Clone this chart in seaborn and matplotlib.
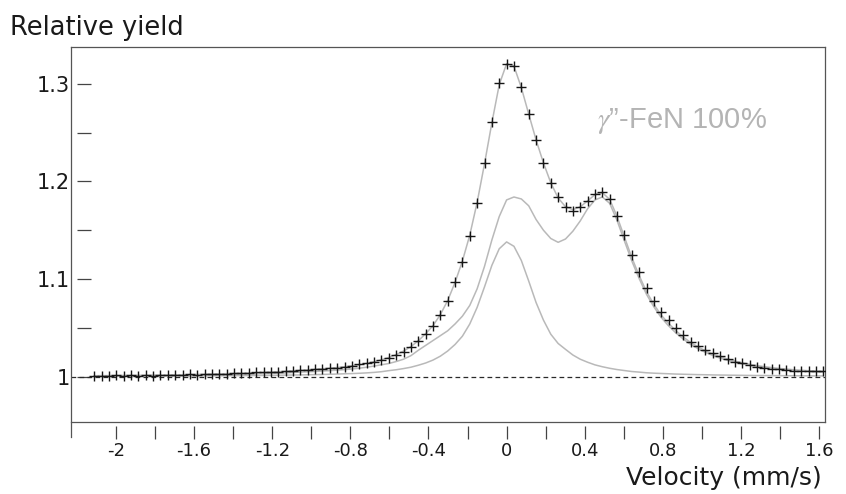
import numpy as np
import matplotlib
matplotlib.use("Agg")
import matplotlib.pyplot as plt
from matplotlib.markers import MarkerStyle
from matplotlib.path import Path
import seaborn as sns

# velocity scale of the spectrometer channels
n_channels = 100
zero_channel = 56
channel_width = 0.0377  # mm/s per channel

# measured relative yield, one value per channel
measured_yield = [
    1.0008, 1.0012, 1.0010, 1.0013, 1.0011, 1.0014, 1.0012, 1.0016, 1.0002, 1.0018,
    1.0017, 1.0020, 1.0019, 1.0024, 1.0022, 1.0027, 1.0025, 1.0031, 1.0029, 1.0034,
    1.0037, 1.0036, 1.0043, 1.0045, 1.0046, 1.0052, 1.0055, 1.0062, 1.0064, 1.0071,
    1.0074, 1.0082, 1.0086, 1.0092, 1.0102, 1.0110, 1.0127, 1.0140, 1.0154, 1.0171,
    1.0195, 1.0222, 1.0256, 1.0307, 1.0366, 1.0437, 1.0515, 1.0632, 1.0778, 1.0966,
    1.1178, 1.1444, 1.1782, 1.2185, 1.2610, 1.3004, 1.3202, 1.3184, 1.2969, 1.2690,
    1.2423, 1.2190, 1.1986, 1.1837, 1.1740, 1.1697, 1.1734, 1.1799, 1.1870, 1.1894,
    1.1820, 1.1645, 1.1451, 1.1246, 1.1069, 1.0905, 1.0778, 1.0666, 1.0580, 1.0495,
    1.0427, 1.0358, 1.0317, 1.0273, 1.0240, 1.0212, 1.0181, 1.0154, 1.0137, 1.0120,
    1.0102, 1.0092, 1.0082, 1.0079, 1.0069, 1.0061, 1.0055, 1.0055, 1.0055, 1.0058,
]

# fitted total spectrum
fit_total = [
    1.0010, 1.0011, 1.0011, 1.0012, 1.0013, 1.0013, 1.0014, 1.0015, 1.0016, 1.0017,
    1.0018, 1.0019, 1.0020, 1.0022, 1.0023, 1.0025, 1.0027, 1.0029, 1.0031, 1.0033,
    1.0035, 1.0038, 1.0041, 1.0044, 1.0047, 1.0051, 1.0055, 1.0060, 1.0065, 1.0070,
    1.0075, 1.0081, 1.0087, 1.0094, 1.0102, 1.0111, 1.0122, 1.0136, 1.0153, 1.0173,
    1.0197, 1.0226, 1.0262, 1.0308, 1.0367, 1.0440, 1.0522, 1.0635, 1.0780, 1.0965,
    1.1185, 1.1450, 1.1785, 1.2180, 1.2600, 1.2990, 1.3205, 1.3180, 1.2960, 1.2690,
    1.2425, 1.2190, 1.1985, 1.1830, 1.1740, 1.1710, 1.1740, 1.1800, 1.1865, 1.1885,
    1.1815, 1.1640, 1.1430, 1.1220, 1.1035, 1.0870, 1.0740, 1.0630, 1.0545, 1.0470,
    1.0405, 1.0350, 1.0305, 1.0265, 1.0232, 1.0204, 1.0180, 1.0160, 1.0142, 1.0127,
    1.0114, 1.0103, 1.0093, 1.0085, 1.0078, 1.0071, 1.0066, 1.0061, 1.0057, 1.0053,
]

# fitted singlet sub-spectrum
fit_singlet = [
    1.0005, 1.0005, 1.0005, 1.0006, 1.0006, 1.0006, 1.0006, 1.0006, 1.0007, 1.0007,
    1.0007, 1.0007, 1.0008, 1.0008, 1.0008, 1.0009, 1.0009, 1.0010, 1.0010, 1.0011,
    1.0011, 1.0012, 1.0012, 1.0013, 1.0014, 1.0015, 1.0016, 1.0017, 1.0018, 1.0020,
    1.0021, 1.0023, 1.0025, 1.0027, 1.0030, 1.0032, 1.0035, 1.0039, 1.0044, 1.0051,
    1.0062, 1.0071, 1.0083, 1.0097, 1.0117, 1.0140, 1.0170, 1.0210, 1.0263, 1.0330,
    1.0415, 1.0540, 1.0710, 1.0920, 1.1140, 1.1310, 1.1380, 1.1335, 1.1190, 1.0980,
    1.0760, 1.0580, 1.0435, 1.0340, 1.0280, 1.0222, 1.0179, 1.0148, 1.0121, 1.0102,
    1.0086, 1.0073, 1.0063, 1.0053, 1.0047, 1.0040, 1.0036, 1.0033, 1.0030, 1.0027,
    1.0025, 1.0023, 1.0021, 1.0020, 1.0018, 1.0017, 1.0016, 1.0015, 1.0014, 1.0013,
    1.0012, 1.0012, 1.0011, 1.0011, 1.0010, 1.0010, 1.0009, 1.0009, 1.0008, 1.0008,
]

# fitted doublet sub-spectrum
fit_doublet = [
    1.0005, 1.0006, 1.0006, 1.0006, 1.0007, 1.0007, 1.0008, 1.0009, 1.0009, 1.0010,
    1.0011, 1.0012, 1.0012, 1.0014, 1.0015, 1.0016, 1.0018, 1.0019, 1.0021, 1.0022,
    1.0024, 1.0026, 1.0029, 1.0031, 1.0033, 1.0036, 1.0039, 1.0043, 1.0047, 1.0050,
    1.0054, 1.0058, 1.0062, 1.0067, 1.0072, 1.0079, 1.0087, 1.0097, 1.0109, 1.0122,
    1.0135, 1.0155, 1.0179, 1.0215, 1.0270, 1.0320, 1.0370, 1.0420, 1.0470, 1.0540,
    1.0620, 1.0730, 1.0900, 1.1130, 1.1400, 1.1640, 1.1810, 1.1840, 1.1820, 1.1750,
    1.1610, 1.1500, 1.1415, 1.1376, 1.1410, 1.1490, 1.1595, 1.1720, 1.1810, 1.1840,
    1.1775, 1.1600, 1.1390, 1.1185, 1.1005, 1.0843, 1.0715, 1.0605, 1.0520, 1.0447,
    1.0385, 1.0330, 1.0287, 1.0249, 1.0217, 1.0190, 1.0167, 1.0148, 1.0131, 1.0117,
    1.0105, 1.0094, 1.0085, 1.0077, 1.0070, 1.0064, 1.0059, 1.0054, 1.0050, 1.0047,
]

x_major = [-2.0, -1.6, -1.2, -0.8, -0.4, 0.0, 0.4, 0.8, 1.2, 1.6]
x_major_labels = ["-2", "-1.6", "-1.2", "-0.8", "-0.4", "0", "0.4", "0.8", "1.2", "1.6"]
x_minor = [-1.8, -1.4, -1.0, -0.6, -0.2, 0.2, 0.6, 1.0, 1.4]
y_major = [1.0, 1.1, 1.2, 1.3]
y_major_labels = ["1", "1.1", "1.2", "1.3"]
y_minor = [1.05, 1.15, 1.25]

sample_label = "$\\gamma$\u201d-FeN 100%"

velocity = (np.arange(n_channels) - zero_channel) * channel_width

sns.set_theme(style="white")
plt.rcParams["font.family"] = ["DejaVu Sans"]
plt.rcParams["mathtext.fontset"] = "stix"

W, H = 846, 494
fig = plt.figure(figsize=(W / 100, H / 100), dpi=100)
ax_left, ax_right, ax_top, ax_bottom = 71, 825, 46.7, 422.3
ax = fig.add_axes([ax_left / W, 1 - ax_bottom / H,
                   (ax_right - ax_left) / W, (ax_bottom - ax_top) / H])

curve_color = "#b9b9b9"
ax.axhline(1.0, color="#2a2a2a", lw=0.9, ls=(0, (3.8, 2.6)), zorder=1)
for curve in (fit_singlet, fit_doublet, fit_total):
    sns.lineplot(x=velocity, y=curve, ax=ax, color=curve_color, lw=1.1,
                 estimator=None, sort=False, zorder=2)
sns.scatterplot(x=velocity, y=measured_yield, ax=ax, marker="+", s=44,
                color="#161616", linewidth=1.0, zorder=3)

ax.set_xlim(-2.230, 1.630)
ax.set_ylim(0.9533, 1.3379)
ax.set_xticks(x_major, x_major_labels)
ax.set_xticks(x_minor, minor=True)
ax.set_yticks(y_major, y_major_labels)
ax.set_yticks(y_minor, minor=True)

px = 0.72  # points per pixel at 100 dpi
tick_color = "#444444"
x_len, x_gap = 17 * px, 4 / 17
y_len, y_gap = 20 * px, 6 / 20
ax.tick_params(axis="x", which="both", direction="out", length=x_len,
               width=0.9, color=tick_color, pad=2, labelsize=13,
               labelcolor="#1a1a1a", bottom=True)
ax.tick_params(axis="y", which="both", direction="in", length=y_len,
               width=0.9, color=tick_color, pad=1, labelsize=15,
               labelcolor="#1a1a1a", left=True)

# tick dashes that stand a little away from the frame
x_mark = MarkerStyle(Path([(0, -x_gap), (0, -1)], [Path.MOVETO, Path.LINETO]))
y_mark = MarkerStyle(Path([(y_gap, 0), (1, 0)], [Path.MOVETO, Path.LINETO]))
for t in ax.xaxis.get_major_ticks() + ax.xaxis.get_minor_ticks():
    t.tick1line.set_marker(x_mark)
    t.tick1line.set_markersize(2 * x_len)
for t in ax.yaxis.get_major_ticks() + ax.yaxis.get_minor_ticks():
    t.tick1line.set_marker(y_mark)
    t.tick1line.set_markersize(2 * y_len)

for side, sp in ax.spines.items():
    sp.set_color("#555555")
    sp.set_linewidth(0.9)
    sp.set_visible(True)
ax.spines["left"].set_bounds(0.9380, 1.3379)

ax.text(0.463, 1.2546, sample_label, color="#b4b4b4", fontsize=21,
        family="Liberation Sans", ha="left", va="baseline")

fig.text(10 / W, 1 - 35 / H, "Relative yield", fontsize=18.5,
         color="#1a1a1a", ha="left", va="baseline")
ax.set_xlabel("Velocity (mm/s)", fontsize=18, color="#1a1a1a",
              ha="right", va="baseline")
ax.xaxis.set_label_coords(0.996, -(485 - ax_bottom) / (ax_bottom - ax_top))
ax.set_ylabel("")

fig.savefig("out.png", dpi=100)
